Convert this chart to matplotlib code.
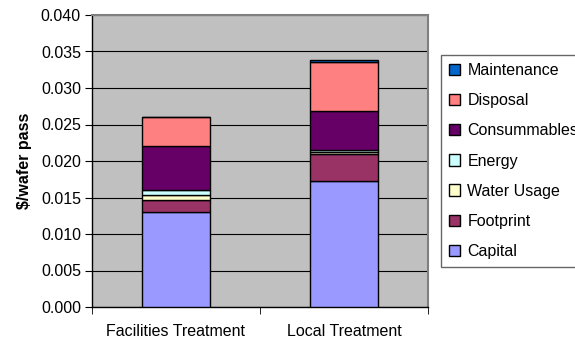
import numpy as np
import matplotlib.pyplot as plt

plt.rcParams['font.family'] = ['Liberation Sans', 'DejaVu Sans']

# cost breakdown per wafer pass ($)
treatments = ["Facilities Treatment", "Local Treatment"]
components = ["Capital", "Footprint", "Water Usage", "Energy",
              "Consummables", "Disposal", "Maintenance"]
capital = [0.0130, 0.0172]
footprint = [0.0017, 0.0038]
water_usage = [0.0007, 0.0003]
energy = [0.0006, 0.0002]
consummables = [0.0060, 0.0053]
disposal = [0.0040, 0.0067]
maintenance = [0.0000, 0.0004]

colors = ["#9999FF", "#993366", "#FFFFCC", "#CCFFFF",
          "#660066", "#FF8080", "#0066CC"]
series = [capital, footprint, water_usage, energy,
          consummables, disposal, maintenance]

fig = plt.figure(figsize=(5.75, 3.43), dpi=100)
ax = fig.add_axes([92/575, 36/343, 336/575, 292/343])
ax.set_facecolor("#C0C0C0")

x = np.arange(len(treatments))
bottom = np.zeros(len(treatments))
bars = []
for name, vals, col in zip(components, series, colors):
    b = ax.bar(x, vals, 0.4, bottom=bottom, color=col, edgecolor="black",
               linewidth=1.0, label=name, zorder=3)
    bars.append(b)
    bottom += np.array(vals)

ax.set_ylim(0, 0.040)
ax.set_xlim(-0.5, 1.5)
ax.set_yticks(np.arange(0, 0.0401, 0.005))
ax.set_yticklabels(["%.3f" % v for v in np.arange(0, 0.0401, 0.005)])
ax.yaxis.grid(True, color="black", linewidth=0.8, zorder=0)
ax.set_axisbelow(True)

ax.set_xticks(x)
ax.set_xticklabels(treatments)
ax.set_xticks([-0.5, 0.5, 1.5], minor=True)
ax.tick_params(axis="x", which="major", length=0, pad=12, labelsize=11.5)
ax.tick_params(axis="x", which="minor", length=5, direction="out", color="black")
ax.tick_params(axis="y", length=5, direction="out", labelsize=11.5, pad=3)

for side in ["top", "right"]:
    ax.spines[side].set_color("#808080")
    ax.spines[side].set_linewidth(1.5)
for side in ["left", "bottom"]:
    ax.spines[side].set_color("black")
    ax.spines[side].set_linewidth(1.0)

ax.set_ylabel("\\$/wafer pass", fontsize=11.5, fontweight="bold", labelpad=6)

handles = bars[::-1]
labels = components[::-1]
leg = fig.legend(handles, labels, loc="upper left",
                 bbox_to_anchor=(441/575, 1 - 55/343), fontsize=11.5,
                 frameon=True, fancybox=False, handlelength=0.7,
                 handleheight=0.7, handletextpad=0.45, labelspacing=0.95,
                 borderpad=0.5, borderaxespad=0)
leg.get_frame().set_edgecolor("#404040")
leg.get_frame().set_linewidth(1.0)

fig.savefig("out.png", dpi=100)
